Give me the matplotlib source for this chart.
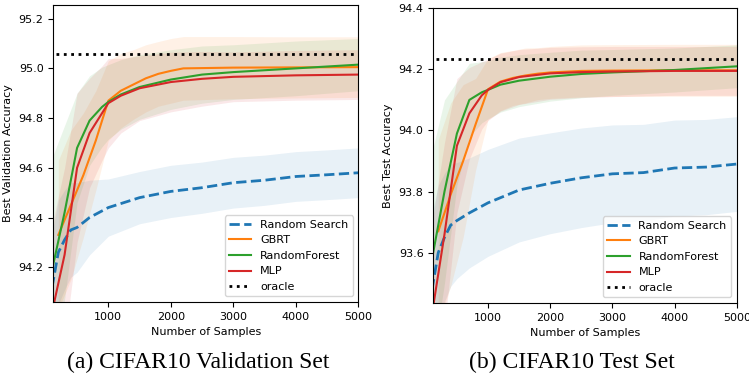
import numpy as np
import matplotlib.pyplot as plt

# ---- data: CIFAR10 validation set ----
val_rs_x = [100, 200, 300, 400, 500, 700, 1000, 1500, 2000, 2500, 3000, 3500, 4000, 4500, 5000]
val_rs_mean = [94.12, 94.26, 94.31, 94.35, 94.36, 94.40, 94.44, 94.48, 94.505, 94.52, 94.54, 94.55, 94.565, 94.572, 94.58]
val_rs_std = [0.22, 0.21, 0.2, 0.19, 0.18, 0.15, 0.115, 0.105, 0.105, 0.103, 0.102, 0.101, 0.1, 0.1, 0.1]

val_gbrt_x = [200, 400, 600, 800, 1000, 1200, 1400, 1600, 1800, 2000, 2200, 3000, 4000, 5000]
val_gbrt_mean = [94.33, 94.45, 94.57, 94.71, 94.87, 94.91, 94.935, 94.96, 94.978, 94.99, 95.0, 95.003, 95.004, 95.005]
val_gbrt_std = [0.3, 0.3, 0.25, 0.2, 0.16, 0.15, 0.14, 0.135, 0.13, 0.13, 0.128, 0.125, 0.123, 0.122]

val_rf_x = [100, 300, 500, 700, 900, 1000, 1200, 1500, 2000, 2500, 3000, 4000, 5000]
val_rf_mean = [94.19, 94.42, 94.68, 94.79, 94.845, 94.865, 94.895, 94.925, 94.955, 94.975, 94.985, 95.0, 95.015]
val_rf_std = [0.45, 0.35, 0.22, 0.18, 0.16, 0.15, 0.14, 0.13, 0.12, 0.115, 0.11, 0.11, 0.105]

val_mlp_x = [100, 300, 500, 700, 900, 1000, 1200, 1500, 2000, 2500, 3000, 4000, 5000]
val_mlp_mean = [94.02, 94.25, 94.60, 94.74, 94.82, 94.86, 94.89, 94.92, 94.945, 94.958, 94.966, 94.972, 94.975]
val_mlp_std = [0.35, 0.35, 0.3, 0.22, 0.19, 0.18, 0.15, 0.13, 0.12, 0.11, 0.1, 0.1, 0.1]

val_oracle = 95.058

# ---- data: CIFAR10 test set ----
test_rs_x = [100, 200, 300, 400, 500, 700, 1000, 1500, 2000, 2500, 3000, 3500, 4000, 4500, 5000]
test_rs_mean = [93.48, 93.60, 93.65, 93.69, 93.705, 93.73, 93.763, 93.805, 93.827, 93.845, 93.858, 93.862, 93.877, 93.88, 93.89]
test_rs_std = [0.25, 0.22, 0.21, 0.2, 0.19, 0.18, 0.175, 0.17, 0.165, 0.163, 0.16, 0.158, 0.157, 0.156, 0.155]

test_gbrt_x = [200, 400, 600, 800, 1000, 1200, 1400, 1600, 1800, 2000, 2500, 3000, 4000, 5000]
test_gbrt_mean = [93.67, 93.79, 93.90, 94.02, 94.135, 94.16, 94.172, 94.18, 94.186, 94.19, 94.195, 94.196, 94.197, 94.197]
test_gbrt_std = [0.3, 0.3, 0.25, 0.15, 0.1, 0.095, 0.09, 0.09, 0.085, 0.085, 0.085, 0.085, 0.085, 0.085]

test_rf_x = [100, 300, 500, 700, 900, 1000, 1200, 1500, 2000, 2500, 3000, 4000, 5000]
test_rf_mean = [93.58, 93.80, 93.99, 94.10, 94.125, 94.133, 94.15, 94.163, 94.176, 94.185, 94.19, 94.198, 94.21]
test_rf_std = [0.35, 0.3, 0.17, 0.12, 0.1, 0.095, 0.09, 0.085, 0.08, 0.078, 0.075, 0.072, 0.07]

test_mlp_x = [100, 300, 500, 700, 900, 1000, 1200, 1500, 2000, 2500, 3000, 4000, 5000]
test_mlp_mean = [93.40, 93.66, 93.95, 94.056, 94.115, 94.133, 94.158, 94.175, 94.187, 94.191, 94.193, 94.195, 94.195]
test_mlp_std = [0.3, 0.3, 0.22, 0.15, 0.11, 0.1, 0.095, 0.09, 0.085, 0.083, 0.082, 0.08, 0.08]

test_oracle = 94.233

panels = [
    dict(rs=(val_rs_x, val_rs_mean, val_rs_std), gbrt=(val_gbrt_x, val_gbrt_mean, val_gbrt_std),
         rf=(val_rf_x, val_rf_mean, val_rf_std), mlp=(val_mlp_x, val_mlp_mean, val_mlp_std),
         oracle=val_oracle, ylabel='Best Validation Accuracy', ylim=(94.06, 95.255),
         yticks=[94.2, 94.4, 94.6, 94.8, 95.0, 95.2], caption='(a) CIFAR10 Validation Set'),
    dict(rs=(test_rs_x, test_rs_mean, test_rs_std), gbrt=(test_gbrt_x, test_gbrt_mean, test_gbrt_std),
         rf=(test_rf_x, test_rf_mean, test_rf_std), mlp=(test_mlp_x, test_mlp_mean, test_mlp_std),
         oracle=test_oracle, ylabel='Best Test Accuracy', ylim=(93.435, 94.4),
         yticks=[93.6, 93.8, 94.0, 94.2, 94.4], caption='(b) CIFAR10 Test Set'),
]

fig = plt.figure(figsize=(7.49, 3.81), dpi=100)
axes = [fig.add_axes([0.0712, 0.2073, 0.4072, 0.7796]),
        fig.add_axes([0.5785, 0.2047, 0.4051, 0.7735])]
caption_x = [0.264, 0.764]

for ax, p, cx in zip(axes, panels, caption_x):
    series = [('rs', 'Random Search', 'C0', '--', 2.0),
              ('gbrt', 'GBRT', 'C1', '-', 1.5),
              ('rf', 'RandomForest', 'C2', '-', 1.5),
              ('mlp', 'MLP', 'C3', '-', 1.5)]
    for key, label, color, ls, lw in series:
        x, m, s = p[key]
        m = np.array(m)
        s = np.array(s)
        ax.fill_between(x, m - s, m + s, color=color, alpha=0.1, lw=0)
        ax.plot(x, m, color=color, ls=ls, lw=lw, label=label)
    ax.axhline(p['oracle'], xmin=0.01, color='k', ls=':', lw=2, label='oracle')
    ax.set_xlim(120, 5000)
    ax.set_ylim(*p['ylim'])
    ax.set_xticks([1000, 2000, 3000, 4000, 5000])
    ax.set_yticks(p['yticks'])
    ax.tick_params(labelsize=8)
    ax.set_xlabel('Number of Samples', fontsize=8)
    ax.set_ylabel(p['ylabel'], fontsize=8)
    ax.legend(loc='lower right', fontsize=8)
    fig.text(cx, 0.048, p['caption'], ha='center', va='center',
             family='Liberation Serif', fontsize=17)

fig.savefig('out.png', dpi=100)
